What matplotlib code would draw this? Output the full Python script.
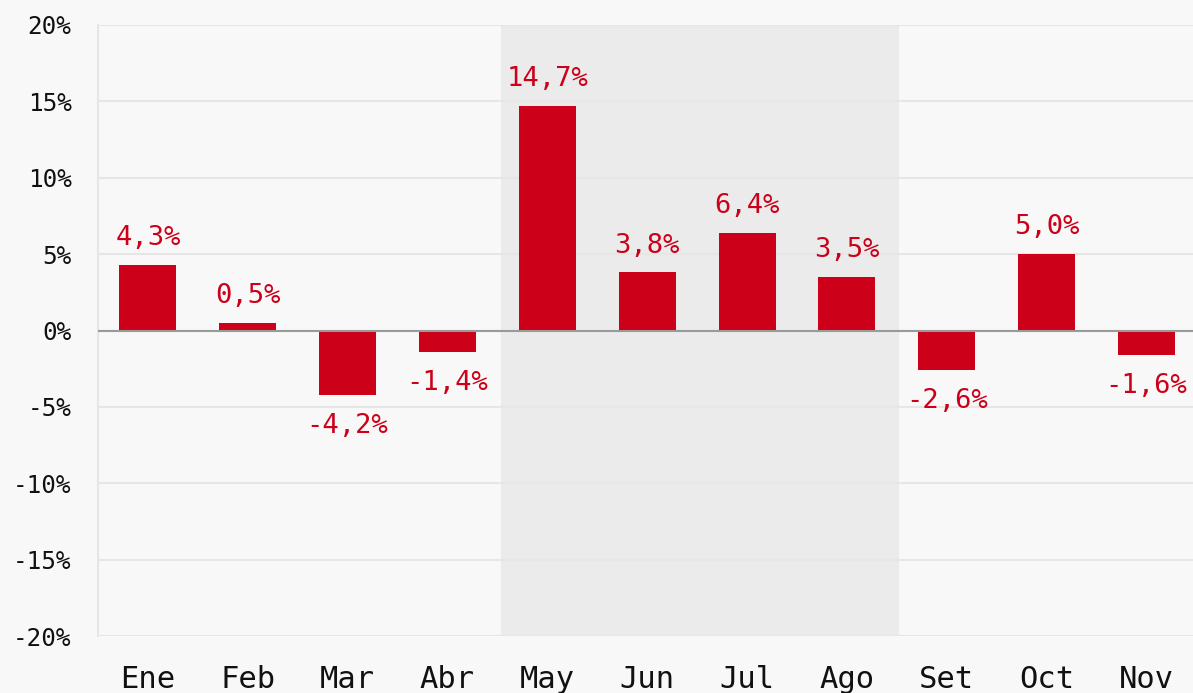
import matplotlib
matplotlib.use("Agg")
import matplotlib.pyplot as plt
import numpy as np

months = ["Ene", "Feb", "Mar", "Abr", "May", "Jun", "Jul", "Ago", "Set", "Oct", "Nov"]
values = [4.3, 0.5, -4.2, -1.4, 14.7, 3.8, 6.4, 3.5, -2.6, 5.0, -1.6]
yticks = [-20, -15, -10, -5, 0, 5, 10, 15, 20]
shade_start, shade_end = 3.54, 7.52

W, H = 1193, 693
fig = plt.figure(figsize=(W / 100, H / 100), dpi=100)
bg = "#f8f8f8"
fig.patch.set_facecolor(bg)
ax = fig.add_axes([98 / W, (H - 636) / H, (W - 98) / W + 0.002, (636 - 25) / H])
ax.set_facecolor(bg)

font = "DejaVu Sans Mono"
red = "#cc0019"

x = np.arange(len(months))
ax.axvspan(shade_start, shade_end, color="#ebebeb", zorder=0, lw=0)
for t in yticks:
    ax.axhline(t, color="#e6e6e6", lw=1.5, zorder=0.5)
ax.axhline(0, color="#9a9a9a", lw=1.5, zorder=3)
ax.bar(x, values, width=0.57, color=red, zorder=2)

for xi, v in zip(x, values):
    lbl = f"{v:.1f}%".replace(".", ",")
    if v >= 0:
        ax.annotate(lbl, (xi, v), xytext=(0, 10), textcoords="offset points",
                    ha="center", va="bottom", color=red, fontsize=19.5, family=font)
    else:
        ax.annotate(lbl, (xi, v), xytext=(0, -13), textcoords="offset points",
                    ha="center", va="top", color=red, fontsize=19.5, family=font)

ax.set_xlim(-0.5, 10.49)
ax.set_ylim(-20, 20)
ax.set_yticks(yticks)
ax.set_yticklabels([f"{t}%" for t in yticks], family=font, fontsize=17.5)
ax.set_xticks(x)
ax.set_xticklabels(months, family=font, fontsize=22)
ax.tick_params(axis="y", length=0, pad=19, colors="#111111")
ax.tick_params(axis="x", length=0, pad=21, colors="#111111")
for s in ["top", "right", "bottom"]:
    ax.spines[s].set_visible(False)
ax.spines["left"].set_color("#e6e6e6")
ax.spines["left"].set_linewidth(1.5)

fig.savefig("out.png", dpi=100, facecolor=bg)
